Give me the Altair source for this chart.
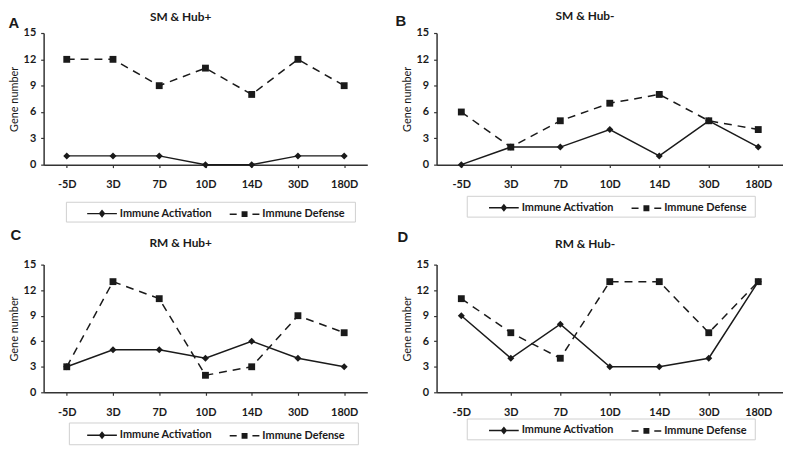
import altair as alt
import pandas as pd

days = ["-5D", "3D", "7D", "10D", "14D", "30D", "180D"]
series_names = ["Immune Activation", "Immune Defense"]
titles = ["SM & Hub+", "SM & Hub-", "RM & Hub+", "RM & Hub-"]
letters = ["A", "B", "C", "D"]
y_ticks = [0, 3, 6, 9, 12, 15]

act_A = [1, 1, 1, 0, 0, 1, 1]
def_A = [12, 12, 9, 11, 8, 12, 9]
act_B = [0, 2, 2, 4, 1, 5, 2]
def_B = [6, 2, 5, 7, 8, 5, 4]
act_C = [3, 5, 5, 4, 6, 4, 3]
def_C = [3, 13, 11, 2, 3, 9, 7]
act_D = [9, 4, 8, 3, 3, 4, 13]
def_D = [11, 7, 4, 13, 13, 7, 13]

FONT = "Lato"
INK = "#1a1a1a"
AXIS = "#333333"

# legend symbols: line segment(s) drawn as thin filled bars plus the marker
ACT_PATH = "M-1,-0.05H1V0.05H-1Z M0,-0.27L0.22,0L0,0.27L-0.22,0Z"
DEF_PATH = "M-1,-0.05H-0.53V0.05H-1Z M-0.2,-0.2H0.2V0.2H-0.2Z M0.53,-0.05H1V0.05H0.53Z"


def panel(act, dfn, title, letter, w, h, letter_xy, title_y, leg_xy, box):
    df = pd.DataFrame({
        "day": days * 2,
        "value": act + dfn,
        "series": [series_names[0]] * 7 + [series_names[1]] * 7,
    })
    x = alt.X("day:N", sort=days, scale=alt.Scale(type="point", padding=0.5),
              axis=alt.Axis(title=None, labelAngle=0))
    y = alt.Y("value:Q", scale=alt.Scale(domain=[0, 15], nice=False),
              axis=alt.Axis(values=y_ticks, title="Gene number", grid=False))
    base = alt.Chart(df).encode(x=x, y=y)
    is_act = alt.datum.series == series_names[0]
    is_def = alt.datum.series == series_names[1]
    line_act = base.transform_filter(is_act).mark_line(color=INK, strokeWidth=1.5)
    line_def = base.transform_filter(is_def).mark_line(color=INK, strokeWidth=1.5, strokeDash=[8, 6])
    pt_act = base.transform_filter(is_act).mark_point(shape="diamond", filled=True, color=INK, size=50, opacity=1)
    pt_def = base.transform_filter(is_def).mark_point(shape="square", filled=True, color=INK, size=48, opacity=1)
    legend_layer = base.transform_filter("false").mark_point(
        filled=True, color=INK, size=900, opacity=1
    ).encode(
        shape=alt.Shape("series:N",
                        scale=alt.Scale(domain=series_names, range=[ACT_PATH, DEF_PATH]),
                        legend=alt.Legend(title=None, orient="none", direction="horizontal",
                                          legendX=leg_xy[0], legendY=leg_xy[1], padding=0,
                                          labelFont=FONT, labelFontSize=11, labelFontWeight="bold",
                                          labelColor=INK, symbolFillColor=INK,
                                          columnPadding=14, labelOffset=2, symbolSize=900))
    )
    frame = alt.Chart(pd.DataFrame({"k": [0]})).mark_rect(
        fill="white", fillOpacity=0, stroke="#cfcfcf", strokeWidth=1
    ).encode(x=alt.value(box[0]), x2=alt.value(box[1]), y=alt.value(box[2]), y2=alt.value(box[3]))
    letter_mark = alt.Chart(pd.DataFrame({"t": [letter]})).mark_text(
        font="Liberation Sans", fontWeight="bold", fontSize=15, align="center", baseline="middle", color=INK
    ).encode(x=alt.value(letter_xy[0]), y=alt.value(letter_xy[1]), text="t:N")
    title_mark = alt.Chart(pd.DataFrame({"t": [title]})).mark_text(
        font=FONT, fontWeight="bold", fontSize=12, align="center", baseline="middle", color=INK
    ).encode(x=alt.value(w / 2 - 25), y=alt.value(title_y), text="t:N")
    return alt.layer(frame, line_act, line_def, pt_act, pt_def, legend_layer,
                     letter_mark, title_mark).properties(width=w, height=h)


pA = panel(act_A, def_A, titles[0], letters[0], 327, 133, (-30, -10), -16, (43, 166), (23, 315, 171, 191))
pB = panel(act_B, def_B, titles[1], letters[1], 350, 133, (-36, -12), -17, (52, 160), (31, 322, 165, 186))
pC = panel(act_C, def_C, titles[2], letters[2], 327, 129, (-28, -30), -22, (43, 156), (26, 318, 160, 182))
pD = panel(act_D, def_D, titles[3], letters[3], 350, 129, (-34, -28), -21, (52, 151), (31, 322, 156, 177))

chart = alt.concat(pA, pB, pC, pD, columns=2, spacing={"row": 5, "column": 28}).resolve_scale(
    shape="independent", x="independent", y="independent"
).resolve_legend(shape="independent").properties(
    padding={"left": 0, "top": 0, "right": 0, "bottom": 0}, align="each"
).configure_view(stroke=None).configure_axis(
    domainColor=AXIS, domainWidth=1.5, tickColor=AXIS, tickWidth=1.2, tickSize=3,
    labelFont=FONT, labelFontSize=11, labelFontWeight="bold", labelColor=INK,
    titleFont=FONT, titleFontSize=11, titleFontWeight="normal", titleColor=INK,
).configure_axisY(labelPadding=5, titlePadding=4).configure_axisX(labelPadding=11)

chart.save("out.html", embed_options={"renderer": "svg", "actions": False})
